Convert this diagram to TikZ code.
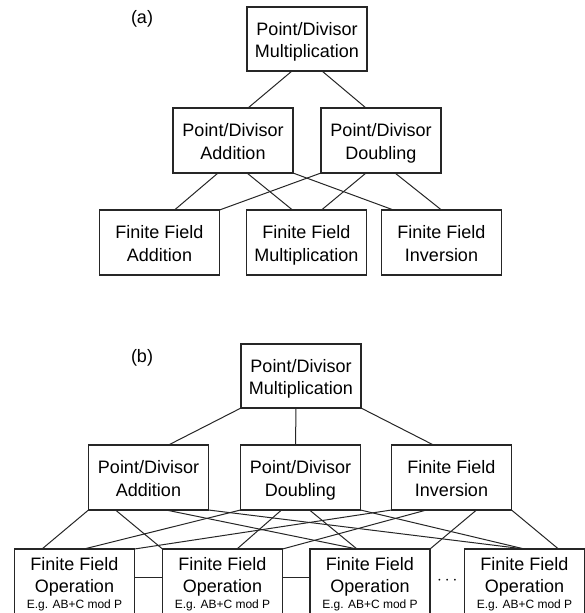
\documentclass[tikz,border=0pt]{standalone}
\usepackage{fontspec}
\setmainfont{Liberation Sans}
\usetikzlibrary{positioning,calc}

\tikzset{box/.style={
    draw=black!85,
    rectangle,
    line width=1.1pt,
    minimum width=120pt,
    minimum height=65pt,
    inner sep=2pt,
    outer sep=0pt,
    align=center,
    text height=37.8pt,
    text depth=0pt,
    font=\fontsize{18}{22.5}\selectfont,
  },
  opbox/.style={box, minimum height=67pt, text height=52pt, anchor=north},
  link/.style={draw=black!85, line width=1pt},
  tag/.style={font=\fontsize{18}{22.5}\selectfont},
}

\begin{document}
\begin{tikzpicture}[x=1pt, y=-1pt]
  \useasboundingbox (0,0) rectangle (585,613);

  % (a) one inversion unit below the point level
  \node[tag] at (142,19) {(a)};
  \node (pmA) [box, minimum height=64pt] at (307,39) {Point/Divisor\\Multiplication};
  \node (addA) [box] at (233,140.5) {Point/Divisor\\Addition};
  \node (dblA) [box, right=28pt of addA] {Point/Divisor\\Doubling};
  \node (ffaddA) [box] at (159.5,242.5) {Finite Field\\Addition};
  \node (ffmulA) [box, right=27pt of ffaddA] {Finite Field\\Multiplication};
  \node (ffinvA) [box, right=15pt of ffmulA] {Finite Field\\Inversion};

  \draw [link] ([xshift=-15pt]pmA.south) -- ([xshift=15pt]addA.north);
  \draw [link] ([xshift=15pt]pmA.south) -- ([xshift=-15pt]dblA.north);

  \draw [link] ([xshift=-15pt]addA.south) -- ([xshift=15pt]ffaddA.north);
  \draw [link] ([xshift=14pt]addA.south) -- ([xshift=-14pt]ffmulA.north);
  \draw [link] (addA.south east) -- ([xshift=-48pt]ffinvA.north);
  \draw [link] (dblA.south west) -- (ffaddA.north east);
  \draw [link] ([xshift=-15pt]dblA.south) -- ([xshift=15pt]ffmulA.north);
  \draw [link] ([xshift=14pt]dblA.south) -- (ffinvA.north);

  % (b) generic field operation units
  \node[tag] at (142,358) {(b)};
  \node (pmB) [box, minimum height=64pt] at (301,376) {Point/Divisor\\Multiplication};
  \node (addB) [box] at (148.5,477.5) {Point/Divisor\\Addition};
  \node (dblB) [box, right=32pt of addB] {Point/Divisor\\Doubling};
  \node (invB) [box, right=31pt of dblB] {Finite Field\\Inversion};

  \node (op1) [opbox] at (74.5,549) {Finite Field\\Operation\\[-6.5pt]{\fontsize{12}{14}\selectfont E.g. AB+C mod P}};
  \node (op2) [opbox] at (222.5,549) {Finite Field\\Operation\\[-6.5pt]{\fontsize{12}{14}\selectfont E.g. AB+C mod P}};
  \node (op3) [opbox] at (370,549) {Finite Field\\Operation\\[-6.5pt]{\fontsize{12}{14}\selectfont E.g. AB+C mod P}};
  \node (op4) [opbox] at (524.5,549) {Finite Field\\Operation\\[-6.5pt]{\fontsize{12}{14}\selectfont E.g. AB+C mod P}};

  \node (dots) [yshift=1.5pt, font=\fontsize{18}{22.5}\selectfont] at ($(op3.east)!0.5!(op4.west)$) {$\cdots$};

  \draw [link] (pmB.south west) -- ([xshift=20pt]addB.north);
  \draw [link] ([xshift=-5pt]pmB.south) -- ([xshift=-5pt]dblB.north);
  \draw [link] (pmB.south east) -- ([xshift=-18pt]invB.north);

  \draw [link] (addB.south west) -- ([xshift=-32.5pt]op1.north);
  \draw [link] ([xshift=-33pt]addB.south) -- (op2.north west);
  \draw [link] ([xshift=17.5pt]addB.south) -- ([xshift=-13pt]op3.north);
  \draw [link] (addB.south east) -- (op4.north);

  \draw [link] (dblB.south west) -- ([xshift=9.5pt]op1.north);
  \draw [link] ([xshift=-19pt]dblB.south) -- ([xshift=14.5pt]op2.north);
  \draw [link] ([xshift=9pt]dblB.south) -- ([xshift=-13pt]op3.north);
  \draw [link] (dblB.south east) -- (op4.north);

  \draw [link] (invB.south west) -- (op1.north east);
  \draw [link] ([xshift=-25pt]invB.south) -- (op2.north east);
  \draw [link] ([xshift=25pt]invB.south) -- (op3.north east);
  \draw [link] (invB.south east) -- ([xshift=34pt]op4.north);

  \draw [link] ([yshift=5pt]op1.east) -- ([yshift=5pt]op2.west);
  \draw [link] ([yshift=5pt]op2.east) -- ([yshift=5pt]op3.west);
\end{tikzpicture}
\end{document}
